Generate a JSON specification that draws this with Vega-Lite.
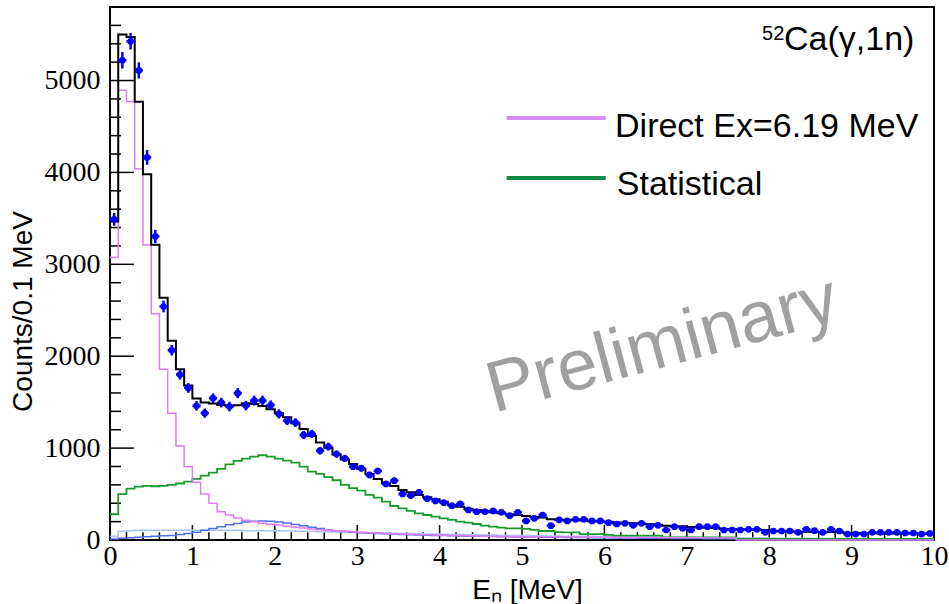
{
  "$schema": "https://vega.github.io/schema/vega-lite/v6.json",
  "width": 824,
  "height": 533,
  "autosize": {"type": "none"},
  "padding": {"left": 110, "top": 7, "right": 15, "bottom": 64},
  "background": "white",
  "config": {
    "view": {"stroke": "black", "strokeWidth": 2},
    "axis": {
      "domain": false, "ticks": false, "grid": false,
      "labelFont": "Liberation Serif", "labelFontSize": 28, "labelColor": "black",
      "labelFlush": false, "labelOverlap": false,
      "titleFont": "Liberation Sans", "titleFontSize": 28, "titleFontWeight": "normal", "titleColor": "black"
    }
  },
  "datasets": {
    "bins": [
      {"lo":0.0,"hi":0.1,"c":0.05,"n":3490,"err":70,"tot":3465,"dir":3074,"stat":280,"bga":40,"bgb":10},
      {"lo":0.1,"hi":0.2,"c":0.15,"n":5220,"err":90,"tot":5500,"dir":4893,"stat":500,"bga":95,"bgb":20},
      {"lo":0.2,"hi":0.3,"c":0.25,"n":5427,"err":90,"tot":5474,"dir":4773,"stat":560,"bga":100,"bgb":25},
      {"lo":0.3,"hi":0.4,"c":0.35,"n":5110,"err":88,"tot":4770,"dir":4040,"stat":580,"bga":105,"bgb":30},
      {"lo":0.4,"hi":0.5,"c":0.45,"n":4163,"err":80,"tot":3980,"dir":3210,"stat":590,"bga":105,"bgb":35},
      {"lo":0.5,"hi":0.6,"c":0.55,"n":3303,"err":72,"tot":3213,"dir":2461,"stat":585,"bga":105,"bgb":40},
      {"lo":0.6,"hi":0.7,"c":0.65,"n":2541,"err":64,"tot":2635,"dir":1859,"stat":590,"bga":105,"bgb":45},
      {"lo":0.7,"hi":0.8,"c":0.75,"n":2065,"err":58,"tot":2167,"dir":1380,"stat":600,"bga":105,"bgb":50},
      {"lo":0.8,"hi":0.9,"c":0.85,"n":1800,"err":55,"tot":1859,"dir":1024,"stat":615,"bga":105,"bgb":60},
      {"lo":0.9,"hi":1.0,"c":0.95,"n":1655,"err":53,"tot":1680,"dir":798,"stat":635,"bga":105,"bgb":70},
      {"lo":1.0,"hi":1.1,"c":1.05,"n":1460,"err":52,"tot":1540,"dir":628,"stat":665,"bga":105,"bgb":85},
      {"lo":1.1,"hi":1.2,"c":1.15,"n":1380,"err":50,"tot":1495,"dir":501,"stat":700,"bga":105,"bgb":105},
      {"lo":1.2,"hi":1.3,"c":1.25,"n":1543,"err":53,"tot":1485,"dir":400,"stat":733,"bga":105,"bgb":125},
      {"lo":1.3,"hi":1.4,"c":1.35,"n":1495,"err":52,"tot":1470,"dir":308,"stat":773,"bga":105,"bgb":145},
      {"lo":1.4,"hi":1.5,"c":1.45,"n":1452,"err":52,"tot":1460,"dir":272,"stat":824,"bga":105,"bgb":165},
      {"lo":1.5,"hi":1.6,"c":1.55,"n":1598,"err":55,"tot":1467,"dir":240,"stat":860,"bga":105,"bgb":180},
      {"lo":1.6,"hi":1.7,"c":1.65,"n":1463,"err":52,"tot":1488,"dir":215,"stat":885,"bga":100,"bgb":195},
      {"lo":1.7,"hi":1.8,"c":1.75,"n":1517,"err":53,"tot":1481,"dir":198,"stat":907,"bga":100,"bgb":205},
      {"lo":1.8,"hi":1.9,"c":1.85,"n":1517,"err":53,"tot":1459,"dir":183,"stat":922,"bga":100,"bgb":208},
      {"lo":1.9,"hi":2.0,"c":1.95,"n":1467,"err":52,"tot":1423,"dir":172,"stat":907,"bga":100,"bgb":205},
      {"lo":2.0,"hi":2.1,"c":2.05,"n":1372,"err":50,"tot":1380,"dir":162,"stat":885,"bga":100,"bgb":195},
      {"lo":2.1,"hi":2.2,"c":2.15,"n":1299,"err":48,"tot":1336,"dir":150,"stat":864,"bga":98,"bgb":185},
      {"lo":2.2,"hi":2.3,"c":2.25,"n":1277,"err":48,"tot":1270,"dir":140,"stat":842,"bga":96,"bgb":170},
      {"lo":2.3,"hi":2.4,"c":2.35,"n":1143,"err":45,"tot":1209,"dir":130,"stat":798,"bga":94,"bgb":155},
      {"lo":2.4,"hi":2.5,"c":2.45,"n":1154,"err":45,"tot":1133,"dir":120,"stat":744,"bga":92,"bgb":140},
      {"lo":2.5,"hi":2.6,"c":2.55,"n":972,"err":42,"tot":1060,"dir":112,"stat":720,"bga":90,"bgb":125},
      {"lo":2.6,"hi":2.7,"c":2.65,"n":1016,"err":42,"tot":1005,"dir":105,"stat":685,"bga":90,"bgb":110},
      {"lo":2.7,"hi":2.8,"c":2.75,"n":935,"err":40,"tot":930,"dir":100,"stat":650,"bga":88,"bgb":100},
      {"lo":2.8,"hi":2.9,"c":2.85,"n":888,"err":39,"tot":875,"dir":95,"stat":600,"bga":86,"bgb":92},
      {"lo":2.9,"hi":3.0,"c":2.95,"n":798,"err":37,"tot":826,"dir":90,"stat":565,"bga":84,"bgb":85},
      {"lo":3.0,"hi":3.1,"c":3.05,"n":781,"err":36,"tot":773,"dir":85,"stat":537,"bga":82,"bgb":80},
      {"lo":3.1,"hi":3.2,"c":3.15,"n":708,"err":35,"tot":719,"dir":80,"stat":490,"bga":80,"bgb":76},
      {"lo":3.2,"hi":3.3,"c":3.25,"n":751,"err":36,"tot":664,"dir":76,"stat":461,"bga":78,"bgb":72},
      {"lo":3.3,"hi":3.4,"c":3.35,"n":610,"err":32,"tot":617,"dir":72,"stat":417,"bga":76,"bgb":68},
      {"lo":3.4,"hi":3.5,"c":3.45,"n":646,"err":33,"tot":588,"dir":68,"stat":370,"bga":74,"bgb":64},
      {"lo":3.5,"hi":3.6,"c":3.55,"n":501,"err":29,"tot":545,"dir":65,"stat":345,"bga":72,"bgb":60},
      {"lo":3.6,"hi":3.7,"c":3.65,"n":483,"err":29,"tot":519,"dir":62,"stat":316,"bga":70,"bgb":57},
      {"lo":3.7,"hi":3.8,"c":3.75,"n":519,"err":30,"tot":490,"dir":60,"stat":290,"bga":68,"bgb":54},
      {"lo":3.8,"hi":3.9,"c":3.85,"n":450,"err":28,"tot":465,"dir":58,"stat":272,"bga":66,"bgb":52},
      {"lo":3.9,"hi":4.0,"c":3.95,"n":425,"err":27,"tot":443,"dir":55,"stat":254,"bga":64,"bgb":50},
      {"lo":4.0,"hi":4.1,"c":4.05,"n":406,"err":26,"tot":417,"dir":52,"stat":236,"bga":62,"bgb":48},
      {"lo":4.1,"hi":4.2,"c":4.15,"n":374,"err":25,"tot":381,"dir":50,"stat":218,"bga":60,"bgb":46},
      {"lo":4.2,"hi":4.3,"c":4.25,"n":392,"err":26,"tot":363,"dir":48,"stat":200,"bga":60,"bgb":44},
      {"lo":4.3,"hi":4.4,"c":4.35,"n":327,"err":24,"tot":341,"dir":46,"stat":189,"bga":58,"bgb":42},
      {"lo":4.4,"hi":4.5,"c":4.45,"n":308,"err":23,"tot":327,"dir":44,"stat":174,"bga":56,"bgb":41},
      {"lo":4.5,"hi":4.6,"c":4.55,"n":308,"err":23,"tot":316,"dir":42,"stat":156,"bga":55,"bgb":40},
      {"lo":4.6,"hi":4.7,"c":4.65,"n":316,"err":23,"tot":302,"dir":40,"stat":145,"bga":54,"bgb":38},
      {"lo":4.7,"hi":4.8,"c":4.75,"n":302,"err":23,"tot":291,"dir":39,"stat":134,"bga":52,"bgb":36},
      {"lo":4.8,"hi":4.9,"c":4.85,"n":265,"err":21,"tot":280,"dir":38,"stat":127,"bga":50,"bgb":35},
      {"lo":4.9,"hi":5.0,"c":4.95,"n":302,"err":23,"tot":272,"dir":37,"stat":127,"bga":50,"bgb":34},
      {"lo":5.0,"hi":5.1,"c":5.05,"n":208,"err":19,"tot":262,"dir":36,"stat":120,"bga":48,"bgb":33},
      {"lo":5.1,"hi":5.2,"c":5.15,"n":236,"err":20,"tot":250,"dir":36,"stat":110,"bga":46,"bgb":32},
      {"lo":5.2,"hi":5.3,"c":5.25,"n":272,"err":21,"tot":245,"dir":35,"stat":98,"bga":45,"bgb":31},
      {"lo":5.3,"hi":5.4,"c":5.35,"n":156,"err":16,"tot":225,"dir":35,"stat":98,"bga":44,"bgb":30},
      {"lo":5.4,"hi":5.5,"c":5.45,"n":218,"err":19,"tot":220,"dir":34,"stat":85,"bga":43,"bgb":29},
      {"lo":5.5,"hi":5.6,"c":5.55,"n":207,"err":19,"tot":218,"dir":34,"stat":83,"bga":42,"bgb":28},
      {"lo":5.6,"hi":5.7,"c":5.65,"n":225,"err":20,"tot":215,"dir":33,"stat":83,"bga":41,"bgb":27},
      {"lo":5.7,"hi":5.8,"c":5.75,"n":225,"err":20,"tot":212,"dir":30,"stat":65,"bga":40,"bgb":26},
      {"lo":5.8,"hi":5.9,"c":5.85,"n":207,"err":19,"tot":205,"dir":30,"stat":65,"bga":40,"bgb":25},
      {"lo":5.9,"hi":6.0,"c":5.95,"n":207,"err":19,"tot":200,"dir":29,"stat":65,"bga":39,"bgb":25},
      {"lo":6.0,"hi":6.1,"c":6.05,"n":189,"err":18,"tot":198,"dir":29,"stat":55,"bga":38,"bgb":24},
      {"lo":6.1,"hi":6.2,"c":6.15,"n":174,"err":17,"tot":190,"dir":28,"stat":47,"bga":37,"bgb":23},
      {"lo":6.2,"hi":6.3,"c":6.25,"n":182,"err":17,"tot":185,"dir":28,"stat":47,"bga":36,"bgb":22},
      {"lo":6.3,"hi":6.4,"c":6.35,"n":160,"err":16,"tot":182,"dir":27,"stat":47,"bga":35,"bgb":21},
      {"lo":6.4,"hi":6.5,"c":6.45,"n":182,"err":17,"tot":178,"dir":27,"stat":47,"bga":34,"bgb":20},
      {"lo":6.5,"hi":6.6,"c":6.55,"n":145,"err":16,"tot":172,"dir":26,"stat":47,"bga":33,"bgb":20},
      {"lo":6.6,"hi":6.7,"c":6.65,"n":160,"err":16,"tot":165,"dir":26,"stat":47,"bga":32,"bgb":19},
      {"lo":6.7,"hi":6.8,"c":6.75,"n":109,"err":14,"tot":155,"dir":25,"stat":29,"bga":31,"bgb":18},
      {"lo":6.8,"hi":6.9,"c":6.85,"n":145,"err":16,"tot":150,"dir":25,"stat":29,"bga":30,"bgb":17},
      {"lo":6.9,"hi":7.0,"c":6.95,"n":127,"err":15,"tot":148,"dir":25,"stat":29,"bga":30,"bgb":16},
      {"lo":7.0,"hi":7.1,"c":7.05,"n":109,"err":14,"tot":142,"dir":24,"stat":29,"bga":29,"bgb":16},
      {"lo":7.1,"hi":7.2,"c":7.15,"n":145,"err":16,"tot":136,"dir":24,"stat":29,"bga":28,"bgb":15},
      {"lo":7.2,"hi":7.3,"c":7.25,"n":145,"err":16,"tot":134,"dir":23,"stat":29,"bga":27,"bgb":14},
      {"lo":7.3,"hi":7.4,"c":7.35,"n":145,"err":16,"tot":130,"dir":23,"stat":29,"bga":26,"bgb":14},
      {"lo":7.4,"hi":7.5,"c":7.45,"n":109,"err":14,"tot":120,"dir":22,"stat":29,"bga":25,"bgb":13},
      {"lo":7.5,"hi":7.6,"c":7.55,"n":109,"err":14,"tot":116,"dir":22,"stat":29,"bga":24,"bgb":12},
      {"lo":7.6,"hi":7.7,"c":7.65,"n":109,"err":14,"tot":116,"dir":0,"stat":11,"bga":24,"bgb":12},
      {"lo":7.7,"hi":7.8,"c":7.75,"n":116,"err":14,"tot":114,"dir":0,"stat":11,"bga":23,"bgb":11},
      {"lo":7.8,"hi":7.9,"c":7.85,"n":116,"err":14,"tot":112,"dir":0,"stat":11,"bga":22,"bgb":11},
      {"lo":7.9,"hi":8.0,"c":7.95,"n":83,"err":12,"tot":110,"dir":0,"stat":11,"bga":21,"bgb":10},
      {"lo":8.0,"hi":8.1,"c":8.05,"n":98,"err":13,"tot":96,"dir":0,"stat":11,"bga":20,"bgb":10},
      {"lo":8.1,"hi":8.2,"c":8.15,"n":98,"err":13,"tot":94,"dir":0,"stat":11,"bga":20,"bgb":9},
      {"lo":8.2,"hi":8.3,"c":8.25,"n":98,"err":13,"tot":92,"dir":0,"stat":11,"bga":19,"bgb":9},
      {"lo":8.3,"hi":8.4,"c":8.35,"n":83,"err":12,"tot":90,"dir":0,"stat":11,"bga":18,"bgb":8},
      {"lo":8.4,"hi":8.5,"c":8.45,"n":116,"err":14,"tot":90,"dir":0,"stat":11,"bga":18,"bgb":8},
      {"lo":8.5,"hi":8.6,"c":8.55,"n":101,"err":13,"tot":88,"dir":0,"stat":11,"bga":17,"bgb":8},
      {"lo":8.6,"hi":8.7,"c":8.65,"n":83,"err":12,"tot":88,"dir":0,"stat":11,"bga":16,"bgb":7},
      {"lo":8.7,"hi":8.8,"c":8.75,"n":116,"err":14,"tot":86,"dir":0,"stat":11,"bga":16,"bgb":7},
      {"lo":8.8,"hi":8.9,"c":8.85,"n":98,"err":13,"tot":86,"dir":0,"stat":11,"bga":15,"bgb":7},
      {"lo":8.9,"hi":9.0,"c":8.95,"n":65,"err":11,"tot":76,"dir":0,"stat":11,"bga":15,"bgb":6},
      {"lo":9.0,"hi":9.1,"c":9.05,"n":65,"err":11,"tot":75,"dir":0,"stat":11,"bga":14,"bgb":6},
      {"lo":9.1,"hi":9.2,"c":9.15,"n":65,"err":11,"tot":74,"dir":0,"stat":11,"bga":14,"bgb":6},
      {"lo":9.2,"hi":9.3,"c":9.25,"n":83,"err":12,"tot":73,"dir":0,"stat":11,"bga":13,"bgb":6},
      {"lo":9.3,"hi":9.4,"c":9.35,"n":83,"err":12,"tot":72,"dir":0,"stat":11,"bga":13,"bgb":5},
      {"lo":9.4,"hi":9.5,"c":9.45,"n":83,"err":12,"tot":72,"dir":0,"stat":11,"bga":12,"bgb":5},
      {"lo":9.5,"hi":9.6,"c":9.55,"n":83,"err":12,"tot":71,"dir":0,"stat":11,"bga":12,"bgb":5},
      {"lo":9.6,"hi":9.7,"c":9.65,"n":76,"err":11,"tot":70,"dir":0,"stat":11,"bga":11,"bgb":5},
      {"lo":9.7,"hi":9.8,"c":9.75,"n":76,"err":11,"tot":70,"dir":0,"stat":11,"bga":11,"bgb":5},
      {"lo":9.8,"hi":9.9,"c":9.85,"n":65,"err":11,"tot":68,"dir":0,"stat":11,"bga":10,"bgb":5},
      {"lo":9.9,"hi":10.0,"c":9.95,"n":72,"err":11,"tot":68,"dir":0,"stat":11,"bga":10,"bgb":5},
      {"lo":10.0,"tot":68,"dir":0,"stat":11,"bga":10,"bgb":5}
    ],
    "xminor": [
      {"v":0.2},{"v":0.4},{"v":0.6},{"v":0.8},{"v":1.2},{"v":1.4},{"v":1.6},{"v":1.8},
      {"v":2.2},{"v":2.4},{"v":2.6},{"v":2.8},{"v":3.2},{"v":3.4},{"v":3.6},{"v":3.8},
      {"v":4.2},{"v":4.4},{"v":4.6},{"v":4.8},{"v":5.2},{"v":5.4},{"v":5.6},{"v":5.8},
      {"v":6.2},{"v":6.4},{"v":6.6},{"v":6.8},{"v":7.2},{"v":7.4},{"v":7.6},{"v":7.8},
      {"v":8.2},{"v":8.4},{"v":8.6},{"v":8.8},{"v":9.2},{"v":9.4},{"v":9.6},{"v":9.8}
    ],
    "xmajor": [
      {"v":1},{"v":2},{"v":3},{"v":4},{"v":5},{"v":6},{"v":7},{"v":8},{"v":9}
    ],
    "yminor": [
      {"v":200},{"v":400},{"v":600},{"v":800},{"v":1200},{"v":1400},{"v":1600},{"v":1800},
      {"v":2200},{"v":2400},{"v":2600},{"v":2800},{"v":3200},{"v":3400},{"v":3600},{"v":3800},
      {"v":4200},{"v":4400},{"v":4600},{"v":4800},{"v":5200},{"v":5400},{"v":5600}
    ],
    "ymajor": [
      {"v":1000},{"v":2000},{"v":3000},{"v":4000},{"v":5000}
    ],
    "legend": [
      {"series": "Direct Ex=6.19 MeV"},
      {"series": "Statistical"}
    ]
  },
  "data": {"name": "bins"},
  "encoding": {
    "x": {
      "type": "quantitative",
      "scale": {"domain": [0, 10], "nice": false, "zero": false},
      "axis": {
        "values": [0, 1, 2, 3, 4, 5, 6, 7, 8, 9, 10], "format": "d",
        "labelPadding": 2,
        "title": "Eₙ [MeV]", "titleX": 417, "titleY": 58,
        "titleAlign": "center", "titleBaseline": "alphabetic"
      }
    },
    "y": {
      "type": "quantitative",
      "scale": {"domain": [0, 5800], "nice": false},
      "axis": {
        "values": [0, 1000, 2000, 3000, 4000, 5000], "format": "d",
        "labelPadding": 10,
        "title": "Counts/0.1 MeV", "titleX": -79, "titleY": 304,
        "titleAlign": "center", "titleBaseline": "alphabetic"
      }
    }
  },
  "layer": [
    {
      "data": {"name": "xminor"},
      "mark": {"type": "rule", "color": "black", "strokeWidth": 1.5},
      "encoding": {"x": {"field": "v"}, "y": {"datum": 0}, "y2": {"datum": 85}}
    },
    {
      "data": {"name": "xmajor"},
      "mark": {"type": "rule", "color": "black", "strokeWidth": 1.5},
      "encoding": {"x": {"field": "v"}, "y": {"datum": 0}, "y2": {"datum": 163}}
    },
    {
      "data": {"name": "yminor"},
      "mark": {"type": "rule", "color": "black", "strokeWidth": 1.5},
      "encoding": {"y": {"field": "v"}, "x": {"datum": 0}, "x2": {"datum": 0.133}}
    },
    {
      "data": {"name": "ymajor"},
      "mark": {"type": "rule", "color": "black", "strokeWidth": 1.5},
      "encoding": {"y": {"field": "v"}, "x": {"datum": 0}, "x2": {"datum": 0.29}}
    },
    {
      "mark": {"type": "line", "interpolate": "step-after", "color": "#a9c4f2", "strokeWidth": 1.5},
      "encoding": {"x": {"field": "lo"}, "y": {"field": "bga"}}
    },
    {
      "mark": {"type": "line", "interpolate": "step-after", "color": "#4f72e3", "strokeWidth": 1.5},
      "encoding": {"x": {"field": "lo"}, "y": {"field": "bgb"}}
    },
    {
      "mark": {"type": "line", "interpolate": "step-after", "color": "#1a9b2e", "strokeWidth": 1.8},
      "encoding": {"x": {"field": "lo"}, "y": {"field": "stat"}}
    },
    {
      "mark": {"type": "line", "interpolate": "step-after", "color": "#df7cf7", "strokeWidth": 1.5},
      "encoding": {"x": {"field": "lo"}, "y": {"field": "dir"}}
    },
    {
      "mark": {"type": "line", "interpolate": "step-after", "color": "black", "strokeWidth": 2},
      "encoding": {"x": {"field": "lo"}, "y": {"field": "tot"}}
    },
    {
      "transform": [{"filter": "isValid(datum.n)"}],
      "mark": {"type": "rule", "color": "#0000ff", "strokeWidth": 2.5},
      "encoding": {
        "x": {"field": "lo"},
        "x2": {"field": "hi"},
        "y": {"field": "n"}
      }
    },
    {
      "transform": [{"filter": "isValid(datum.n)"}],
      "mark": {"type": "errorbar", "color": "#0000ff", "thickness": 2.5},
      "encoding": {
        "x": {"field": "c"},
        "y": {"field": "n"},
        "yError": {"field": "err"}
      }
    },
    {
      "transform": [{"filter": "isValid(datum.n)"}],
      "mark": {"type": "point", "shape": "circle", "filled": true, "color": "#0000ff", "opacity": 1, "size": 45},
      "encoding": {
        "x": {"field": "c"},
        "y": {"field": "n"}
      }
    },
    {
      "data": {"values": [{"label": "Preliminary"}]},
      "mark": {"type": "text", "font": "Liberation Sans", "fontSize": 72, "color": "#a0a0a0", "angle": -15, "align": "center", "baseline": "middle"},
      "encoding": {"text": {"field": "label"}, "x": {"datum": 6.7}, "y": {"datum": 2124}}
    },
    {
      "data": {"values": [{"label": "Ca(γ,1n)"}]},
      "mark": {"type": "text", "font": "Liberation Sans", "fontSize": 34, "color": "black", "align": "left", "baseline": "alphabetic"},
      "encoding": {"text": {"field": "label"}, "x": {"datum": 8.18}, "y": {"datum": 5336}}
    },
    {
      "data": {"values": [{"label": "52"}]},
      "mark": {"type": "text", "font": "Liberation Sans", "fontSize": 20, "color": "black", "align": "left", "baseline": "alphabetic"},
      "encoding": {"text": {"field": "label"}, "x": {"datum": 7.913}, "y": {"datum": 5445}}
    },
    {
      "data": {"name": "legend"},
      "transform": [{"filter": "datum.series === 'Direct Ex=6.19 MeV'"}],
      "mark": {"type": "rule", "color": "#d98af8", "strokeWidth": 4},
      "encoding": {"x": {"datum": 4.814}, "x2": {"datum": 6.016}, "y": {"datum": 4592}}
    },
    {
      "data": {"name": "legend"},
      "transform": [{"filter": "datum.series === 'Statistical'"}],
      "mark": {"type": "rule", "color": "#0e8a45", "strokeWidth": 4},
      "encoding": {"x": {"datum": 4.814}, "x2": {"datum": 6.016}, "y": {"datum": 3939}}
    },
    {
      "data": {"name": "legend"},
      "transform": [{"filter": "datum.series === 'Direct Ex=6.19 MeV'"}],
      "mark": {"type": "text", "font": "Liberation Sans", "fontSize": 34, "color": "black", "align": "left", "baseline": "middle"},
      "encoding": {"text": {"field": "series"}, "x": {"datum": 6.129}, "y": {"datum": 4498}}
    },
    {
      "data": {"name": "legend"},
      "transform": [{"filter": "datum.series === 'Statistical'"}],
      "mark": {"type": "text", "font": "Liberation Sans", "fontSize": 34, "color": "black", "align": "left", "baseline": "middle"},
      "encoding": {"text": {"field": "series"}, "x": {"datum": 6.15}, "y": {"datum": 3866}}
    }
  ]
}
